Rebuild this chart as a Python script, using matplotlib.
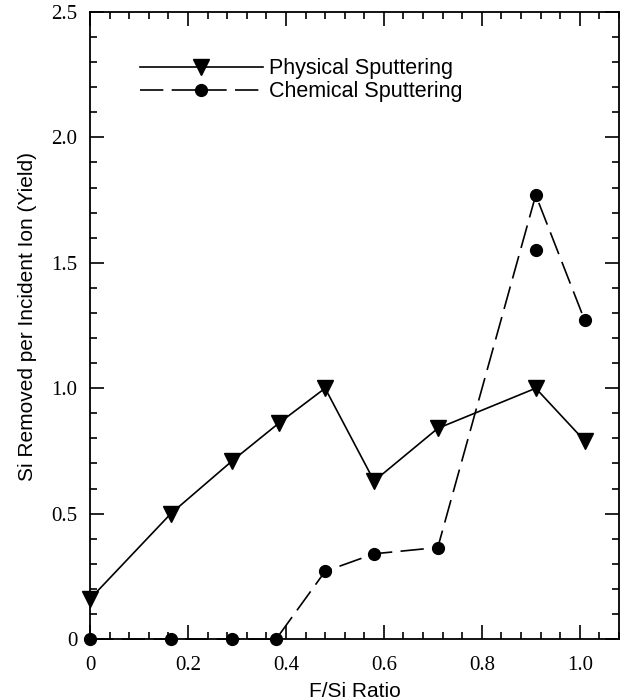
import matplotlib
matplotlib.use('Agg')
import matplotlib.pyplot as plt
from matplotlib.ticker import MultipleLocator

# physical sputtering (triangles)
phys_x = [0.0, 0.165, 0.29, 0.385, 0.48, 0.58, 0.71, 0.91, 1.01]
phys_y = [0.16, 0.50, 0.71, 0.86, 1.00, 0.63, 0.84, 1.00, 0.79]

# chemical sputtering (circles)
chem_x = [0.0, 0.165, 0.29, 0.38, 0.48, 0.58, 0.71, 0.91, 1.01]
chem_y = [0.0, 0.0, 0.0, 0.0, 0.27, 0.34, 0.365, 1.77, 1.27]

# extra chemical point not on the line
extra_x = [0.91]
extra_y = [1.55]

xticks = [0, 0.2, 0.4, 0.6, 0.8, 1.0]
xticklabels = ['0', '0.2', '0.4', '0.6', '0.8', '1.0']
yticks = [0, 0.5, 1.0, 1.5, 2.0, 2.5]
yticklabels = ['0', '0.5', '1.0', '1.5', '2.0', '2.5']

fig = plt.figure(figsize=(6.22, 7.0), dpi=100)
ax = fig.add_axes([0.1447, 0.087, 0.8505, 0.896])

ax.plot(phys_x, phys_y, color='black', lw=1.2, marker='v', markersize=11,
        label='Physical Sputtering', clip_on=False, zorder=3)
ax.plot(chem_x, chem_y, color='black', lw=1.2, linestyle=(0, (14, 5)), marker='o',
        markersize=8.5, label='Chemical Sputtering', clip_on=False, zorder=3)
ax.plot(extra_x, extra_y, color='black', linestyle='none', marker='o', markersize=8.5,
        clip_on=False, zorder=3)

ax.set_xlim(0, 1.08)
ax.set_ylim(0, 2.5)
ax.set_xticks(xticks)
ax.set_xticklabels(xticklabels)
ax.set_yticks(yticks)
ax.set_yticklabels(yticklabels)
ax.xaxis.set_minor_locator(MultipleLocator(0.04))
ax.yaxis.set_minor_locator(MultipleLocator(0.1))

ax.tick_params(which='both', direction='in', top=True, right=True, width=1.2)
ax.tick_params(which='major', length=10, pad=9)
ax.tick_params(axis='x', which='major', pad=12)
ax.tick_params(which='minor', length=5)
for lab in ax.get_xticklabels() + ax.get_yticklabels():
    lab.set_fontfamily('Liberation Serif')
    lab.set_fontsize(15)
for s in ax.spines.values():
    s.set_linewidth(1.3)

ax.set_xlabel('F/Si Ratio', fontfamily='Liberation Sans', fontsize=15, labelpad=5)
ax.set_ylabel('Si Removed per Incident Ion (Yield)', fontfamily='Liberation Sans',
              fontsize=15, labelpad=10)
ax.yaxis.label.set_y(0.515)

leg = ax.legend(loc='upper left', bbox_to_anchor=(0.078, 0.94), frameon=False,
                handlelength=5.7, handletextpad=0.3,
                prop={'family': 'Liberation Sans', 'size': 15.5},
                borderaxespad=0, labelspacing=0.1)

fig.savefig('out.png', dpi=100)
